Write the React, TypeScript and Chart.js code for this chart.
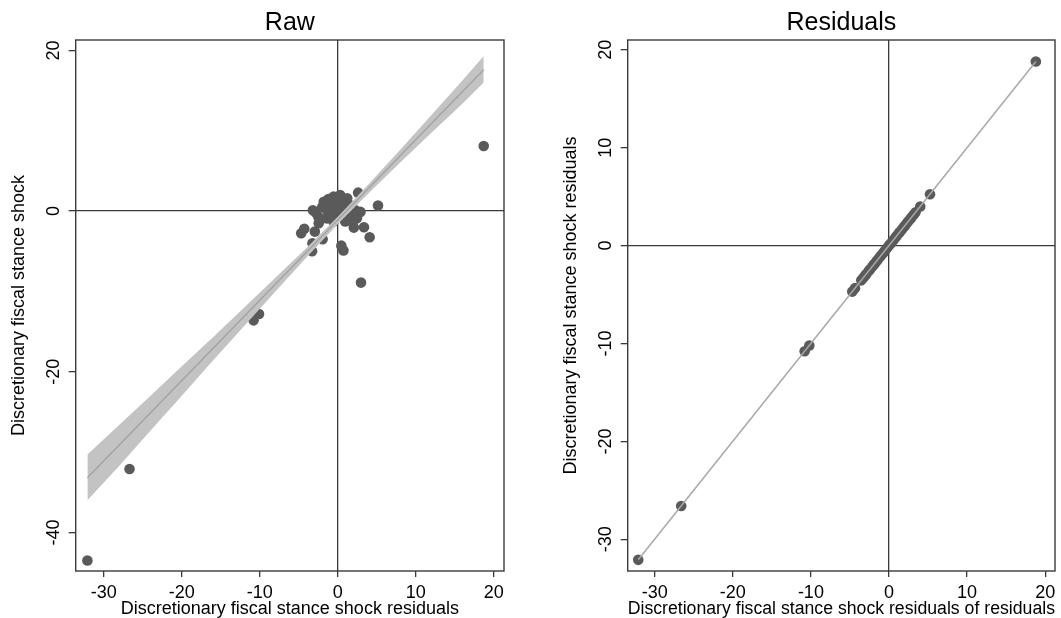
import React, { useEffect, useRef } from 'react';
import { Chart, registerables } from 'chart.js';

Chart.register(...registerables);

// ---- Left panel ("Raw") data ----
const rawX = [-32.1, -26.7, -10.8, -10.1, 18.7, 2.97, 5.15, 4.08, 3.35, 2.05, 0.45, 0.72, -4.7, -4.3, -3.25, -3.3, -1.95, -2.95, -3.2, -2.5, -2.45, -1.8, -1.4, -1.4, -0.95, -0.55, -0.55, -0.1, 0.3, 0.75, 0.95, 1.2, 1.6, 1.8, 2.25, 2.45, 2.6, 2.9, -2.0, -1.0, 0.2, 0.5, 1.3, -0.3, 1.0, -2.8, 0.1, -1.2, 0.6, 1.9, -0.7, -2.2];
const rawY = [-43.5, -32.1, -13.6, -12.8, 8.1, -8.9, 0.7, -3.25, -2.0, -2.05, -4.3, -4.9, -2.75, -2.2, -4.0, -5.0, -3.5, -2.55, 0.1, -0.7, -1.5, 1.15, -0.9, 0.1, 0.75, 1.8, -1.3, -0.1, 2.0, 0.35, -1.3, 1.6, -0.65, 0.65, 0.1, -0.9, 2.3, -0.1, 0.5, -0.3, 0.9, -0.6, 0.2, 0.4, 1.0, -0.2, 1.4, 1.5, 1.2, -1.4, -0.8, -1.0];

const fitX = [-32.1, 18.7];
const fitY = [-33.2, 17.6];

const bandX = [-32.1, -28, -24, -20, -16, -12, -8, -4, 0, 4, 8, 12, 16, 18.7];
const bandLo = [-36.0, -31.7, -27.3, -23.0, -18.6, -14.3, -10.0, -5.75, -1.6, 2.3, 6.05, 9.75, 13.4, 16.0];
const bandHi = [-30.3, -26.6, -23.0, -19.3, -15.7, -12.0, -8.3, -4.55, -0.7, 3.4, 7.65, 11.95, 16.3, 19.3];

const rawXTicks = [-30, -20, -10, 0, 10, 20];
const rawYTicks = [-40, -20, 0, 20];

// ---- Right panel ("Residuals") data ----
const residX = [-32.1, -26.6, -10.8, -10.2, -4.7, -4.35, -3.55, -3.3, -3.05, -2.9, -2.6, -2.45, -2.2, -2.0, -1.85, -1.6, -1.45, -1.2, -1.05, -0.8, -0.6, -0.45, -0.2, 0.05, 0.2, 0.45, 0.6, 0.85, 1.0, 1.25, 1.4, 1.65, 1.9, 2.05, 2.3, 2.5, 2.75, 2.9, 3.15, 3.4, 4.0, 5.25, 18.8];
const residY = [-32.1, -26.6, -10.8, -10.2, -4.7, -4.35, -3.55, -3.3, -3.05, -2.9, -2.6, -2.45, -2.2, -2.0, -1.85, -1.6, -1.45, -1.2, -1.05, -0.8, -0.6, -0.45, -0.2, 0.05, 0.2, 0.45, 0.6, 0.85, 1.0, 1.25, 1.4, 1.65, 1.9, 2.05, 2.3, 2.5, 2.75, 2.9, 3.15, 3.4, 4.0, 5.25, 18.8];

const residLineX = [-32.1, 18.8];
const residLineY = [-32.1, 18.8];

const resXTicks = [-30, -20, -10, 0, 10, 20];
const resYTicks = [-30, -20, -10, 0, 10, 20];

const FONT = '"Liberation Sans", Arial, Helvetica, sans-serif';
const POINT_COLOR = '#5a5a5a';
const AXIS_COLOR = '#3a3a3a';

const framePlugin = {
  id: 'frame',
  afterDraw(chart: any) {
    const { ctx, chartArea } = chart;
    ctx.save();
    ctx.strokeStyle = AXIS_COLOR;
    ctx.lineWidth = 1.4;
    ctx.strokeRect(chartArea.left, chartArea.top, chartArea.right - chartArea.left, chartArea.bottom - chartArea.top);
    ctx.restore();
  },
};

const pts = (xs: number[], ys: number[]) => xs.map((x, i) => ({ x, y: ys[i] }));

function makeConfig(opts: {
  title: string;
  xTitle: string;
  yTitle: string;
  xMin: number; xMax: number; yMin: number; yMax: number;
  xTicks: number[]; yTicks: number[];
  padRight: number;
  datasets: any[];
}) {
  const gridColor = (c: any) => (c.tick && c.tick.value === 0 ? AXIS_COLOR : 'rgba(0,0,0,0)');
  return {
    type: 'scatter',
    data: { datasets: opts.datasets },
    options: {
      animation: false,
      responsive: false,
      events: [],
      layout: { padding: { left: 0, right: opts.padRight, top: 0, bottom: 0 } },
      plugins: {
        legend: { display: false },
        tooltip: { enabled: false },
        title: {
          display: true,
          text: opts.title,
          fullSize: false,
          color: '#000',
          font: { family: FONT, size: 25, weight: 'normal', lineHeight: 1.2 },
          padding: { top: 7.8, bottom: 2.2 },
        },
      },
      scales: {
        x: {
          type: 'linear',
          min: opts.xMin,
          max: opts.xMax,
          afterBuildTicks: (s: any) => { s.ticks = opts.xTicks.map((v) => ({ value: v })); },
          afterFit: (s: any) => { s.height = 47; s.paddingLeft = 0; s.paddingRight = 0; },
          ticks: { color: '#000', font: { family: FONT, size: 18, lineHeight: 1.2 }, padding: 5, autoSkip: false, maxRotation: 0, minRotation: 0 },
          grid: { color: gridColor, lineWidth: 1.3, drawTicks: true, tickLength: 6, tickColor: AXIS_COLOR, tickWidth: 1.3 },
          border: { display: false },
          title: { display: true, text: opts.xTitle, color: '#000', font: { family: FONT, size: 18, lineHeight: 1 }, padding: { top: 0, bottom: 0 } },
        },
        y: {
          type: 'linear',
          min: opts.yMin,
          max: opts.yMax,
          afterBuildTicks: (s: any) => { s.ticks = opts.yTicks.map((v) => ({ value: v })); },
          afterFit: (s: any) => { s.width = 75.7; s.paddingTop = 0; s.paddingBottom = 0; },
          ticks: { color: '#000', font: { family: FONT, size: 18, lineHeight: 1.2 }, padding: 2, minRotation: 90, maxRotation: 90, crossAlign: 'center', autoSkip: false },
          grid: { color: gridColor, lineWidth: 1.3, drawTicks: true, tickLength: 7, tickColor: AXIS_COLOR, tickWidth: 1.3 },
          border: { display: false },
          title: { display: true, text: opts.yTitle, color: '#000', font: { family: FONT, size: 18, lineHeight: 1.2 }, padding: { top: 8, bottom: 0 } },
        },
      },
    },
    plugins: [framePlugin],
  } as any;
}

function ChartCanvas({ config, left, width }: { config: any; left: number; width: number }) {
  const ref = useRef<HTMLCanvasElement | null>(null);
  useEffect(() => {
    if (!ref.current) return;
    const chart = new Chart(ref.current, config);
    return () => chart.destroy();
  }, [config]);
  return (
    <canvas
      ref={ref}
      width={width}
      height={618}
      style={{ position: 'absolute', left, top: 0, width, height: 618 }}
    />
  );
}

const rawConfig = makeConfig({
  title: 'Raw',
  xTitle: 'Discretionary fiscal stance shock residuals',
  yTitle: 'Discretionary fiscal stance shock',
  xMin: -33.6, xMax: 21.3, yMin: -44.8, yMax: 21.3,
  xTicks: rawXTicks, yTicks: rawYTicks,
  padRight: 48,
  datasets: [
    { type: 'line', data: pts(fitX, fitY), borderColor: '#a2a2a2', borderWidth: 1.3, pointRadius: 0, fill: false },
    { type: 'line', data: pts(bandX, bandHi), borderWidth: 0, borderColor: 'rgba(0,0,0,0)', pointRadius: 0, fill: '+1', backgroundColor: '#c3c3c3' },
    { type: 'line', data: pts(bandX, bandLo), borderWidth: 0, borderColor: 'rgba(0,0,0,0)', pointRadius: 0, fill: false },
    { type: 'scatter', data: pts(rawX, rawY), pointRadius: 5.3, pointBackgroundColor: POINT_COLOR, pointBorderColor: POINT_COLOR, pointBorderWidth: 0 },
  ],
});

const resConfig = makeConfig({
  title: 'Residuals',
  xTitle: 'Discretionary fiscal stance shock residuals of residuals',
  yTitle: 'Discretionary fiscal stance shock residuals',
  xMin: -33.45, xMax: 21.25, yMin: -33.24, yMax: 21.0,
  xTicks: resXTicks, yTicks: resYTicks,
  padRight: 6,
  datasets: [
    { type: 'line', data: pts(residLineX, residLineY), borderColor: '#a8a8a8', borderWidth: 1.5, pointRadius: 0, fill: false },
    { type: 'scatter', data: pts(residX, residY), pointRadius: 5.3, pointBackgroundColor: POINT_COLOR, pointBorderColor: POINT_COLOR, pointBorderWidth: 0 },
  ],
});

export default function App() {
  return (
    <div style={{ position: 'absolute', left: 0, top: 0, width: 1061, height: 618, overflow: 'hidden', background: '#fff' }}>
      <ChartCanvas config={rawConfig} left={0} width={552} />
      <ChartCanvas config={resConfig} left={552} width={509} />
    </div>
  );
}
